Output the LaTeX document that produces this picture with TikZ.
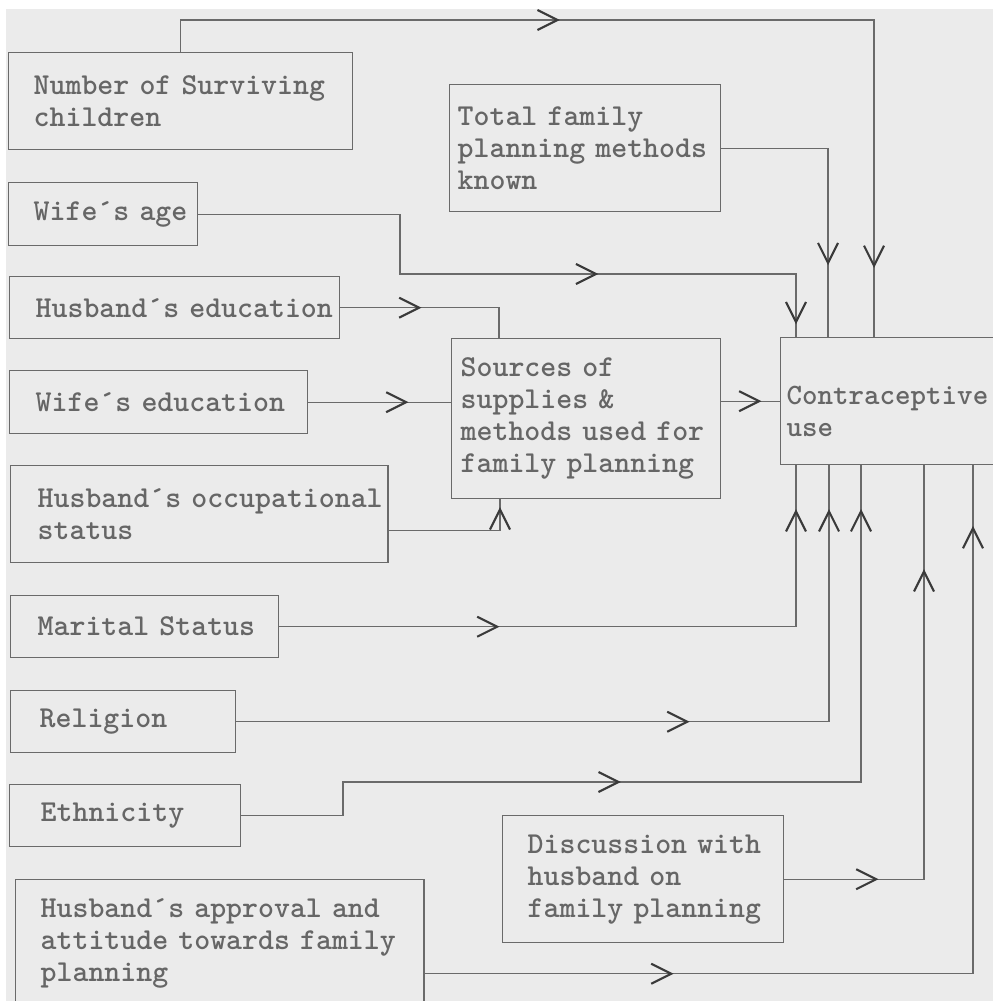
\documentclass[tikz,border=0pt]{standalone}
\usepackage{fontspec}
\usetikzlibrary{arrows.meta,decorations.markings}
\definecolor{bg}{HTML}{EBEBEB}
\definecolor{ln}{HTML}{6A6A6A}
\definecolor{tx}{HTML}{666666}
\definecolor{ah}{HTML}{3A3A3A}
\newcommand\oneline[1]{\mbox{#1}}
\tikzset{chev/.tip={Straight Barb[length=0.5cm,width=0.5cm,line width=1.5pt,color=ah]}}
\begin{document}
\begin{tikzpicture}[x=0.025cm,y=-0.025cm,
  box/.style={draw=ln, line width=1pt, anchor=north west, align=left, inner ysep=0pt,
    text=tx, font=\fontsize{21.6}{22.8}\selectfont\ttfamily\bfseries},
  conn/.style={draw=ln, line width=1pt},
  ar/.style={postaction={decorate, decoration={markings, mark=at position #1 with {\arrow{chev}}}}}]
\useasboundingbox (0,0) rectangle (993,1001);
\clip (0,0) rectangle (993,1001);
\fill[white] (0,0) rectangle (993,1001);
\fill[bg] (6,9) rectangle (993,1001);

% boxes
\node[box, minimum width=8.6cm, minimum height=2.425cm, inner xsep=0.625cm, text width=7.35cm] (num) at (8,52)
  {\oneline{Number of Surviving}\\\oneline{children}};
\node[box, minimum width=4.725cm, minimum height=1.575cm, inner xsep=0.625cm, text width=3.475cm] (wage) at (8,182)
  {\oneline{Wife´s age}};
\node[box, minimum width=6.775cm, minimum height=3.175cm, inner xsep=0.2cm, text width=6.375cm] (total) at (449,84)
  {\oneline{Total family}\\\oneline{planning methods}\\\oneline{known}};
\node[box, minimum width=8.25cm, minimum height=1.55cm, inner xsep=0.65cm, text width=6.95cm] (hedu) at (9,276)
  {\oneline{Husband´s education}};
\node[box, minimum width=7.45cm, minimum height=1.575cm, inner xsep=0.65cm, text width=6.15cm] (wedu) at (9,370)
  {\oneline{Wife´s education}};
\node[box, minimum width=6.725cm, minimum height=4cm, inner xsep=0.225cm, text width=6.275cm] (sources) at (451,338)
  {\oneline{Sources of}\\\oneline{supplies \&}\\\oneline{methods used for}\\\oneline{family planning}};
\node[box, minimum width=5.75cm, minimum height=3.175cm, inner xsep=0.15cm, text width=5.45cm,
  font=\fontsize{21}{22.8}\selectfont\ttfamily\bfseries,
  text height=1cm, text depth=0.825cm] (contra) at (780,337)
  {\oneline{Contraceptive}\\\oneline{use}};
\node[box, minimum width=9.425cm, minimum height=2.425cm, inner xsep=0.675cm, text width=8.075cm] (occ) at (10,465)
  {\oneline{Husband´s occupational}\\\oneline{status}};
\node[box, minimum width=6.7cm, minimum height=1.55cm, inner xsep=0.675cm, text width=5.35cm] (marital) at (10,595)
  {\oneline{Marital Status}};
\node[box, minimum width=5.625cm, minimum height=1.55cm, inner xsep=0.725cm, text width=4.175cm] (religion) at (10,690)
  {\oneline{Religion}};
\node[box, minimum width=5.775cm, minimum height=1.55cm, inner xsep=0.775cm, text width=4.225cm] (ethnicity) at (9,784)
  {\oneline{Ethnicity}};
\node[box, minimum width=7.025cm, minimum height=3.175cm, inner xsep=0.625cm, text width=5.775cm] (disc) at (502,815)
  {\oneline{Discussion with}\\\oneline{husband on}\\\oneline{family planning}};
\node[box, minimum width=10.2cm, minimum height=3.2cm, inner xsep=0.625cm, text width=8.95cm] (approval) at (15,879)
  {\oneline{Husband´s approval and}\\\oneline{attitude towards family}\\\oneline{planning}};

% corner coordinates
\coordinate (A1) at (874,20);
\coordinate (B1) at (828,0);
\coordinate (C1) at (400,274);
\coordinate (C2) at (796,274);
\coordinate (D1) at (499,0);
\coordinate (F1) at (500,0);
\coordinate (H1) at (796,0);
\coordinate (I1) at (829,0);
\coordinate (J1) at (343,782);
\coordinate (J2) at (861,782);
\coordinate (K1) at (924,0);
\coordinate (L1) at (973,0);

% connectors
\draw[conn, ar=10.275cm, ar=24.325cm] (num.north) |- (A1) -- (A1 |- contra.north);
\draw[conn, ar=5.5875cm] (total.east) -| (B1 |- contra.north);
\draw[conn, ar=11.4875cm, ar=17.6875cm] (wage.east) -| (C1) -- (C2) -- (C2 |- contra.north);
\draw[conn, ar=2.025cm] (hedu.east) -| (D1 |- sources.north);
\draw[conn, ar=2.5cm] (wedu.east) -- (sources.west |- wedu.east);
\draw[conn, ar=3.3625cm] ([yshift=-0.4cm]occ.east) -| (F1 |- sources.south);
\draw[conn, ar=1.0cm] (sources.east |- contra.west) -- (contra.west);
\draw[conn, ar=5.5cm, ar=15.85cm] (marital.east) -| (H1 |- contra.south);
\draw[conn, ar=11.325cm, ar=20.125cm] (religion.east) -| (I1 |- contra.south);
\draw[conn, ar=10.325cm, ar=23.15cm] (ethnicity.east) -| (J1) -- (J2) -- (J2 |- contra.south);
\draw[conn, ar=2.35cm, ar=11.2375cm] (disc.east) -| (K1 |- contra.south);
\draw[conn, ar=6.225cm, ar=24.9cm] ([yshift=-0.75cm]approval.east) -| (L1 |- contra.south);
\end{tikzpicture}
\end{document}
